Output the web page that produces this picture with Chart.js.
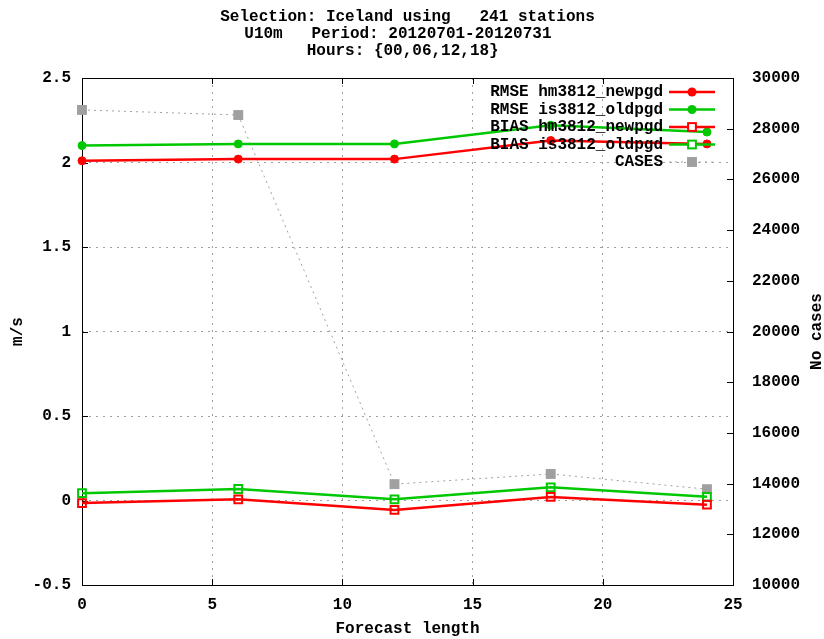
<!DOCTYPE html>
<html>
<head>
<meta charset="utf-8">
<script src="https://cdn.jsdelivr.net/npm/chart.js@4.4.1/dist/chart.umd.min.js"></script>
<style>
  html, body { margin: 0; padding: 0; background: #fff; }
  #wrap { width: 824px; height: 639px; }
</style>
</head>
<body>
<div id="wrap"><canvas id="chart" width="824" height="639"></canvas></div>
<script>
// forecast lead times (hours)
const leadTimes = [0, 6, 12, 18, 24];

// scores in m/s
const rmseNew = [2.01, 2.02, 2.02, 2.13, 2.11];
const rmseOld = [2.10, 2.11, 2.11, 2.22, 2.18];
const biasNew = [-0.015, 0.007, -0.056, 0.021, -0.025];
const biasOld = [0.043, 0.068, 0.007, 0.078, 0.022];

// number of cases (right axis)
const cases = [28740, 28540, 13980, 14380, 13780];

const xTicks = [0, 5, 10, 15, 20, 25];
const yTicks = [-0.5, 0, 0.5, 1, 1.5, 2, 2.5];
const y2Ticks = [10000, 12000, 14000, 16000, 18000, 20000, 22000, 24000, 26000, 28000, 30000];

const titleLines = [
  'Selection: Iceland using   241 stations',
  'U10m   Period: 20120701-20120731  ',
  'Hours: {00,06,12,18} '
];

const RED = '#ff0000';
const GREEN = '#00c800';
const GREY = '#a0a0a0';
const FONT = "'Liberation Mono', 'DejaVu Sans Mono', monospace";

const pts = vals => leadTimes.map((x, i) => ({ x: x, y: vals[i] }));

Chart.defaults.font = { family: FONT, size: 16, weight: 'bold' };
Chart.defaults.color = '#000';

// gnuplot style frame, inward tick marks and right axis title
const framePlugin = {
  id: 'frame',
  beforeDatasetsDraw(chart) {
    const { ctx, chartArea: a, scales } = chart;
    ctx.save();
    ctx.strokeStyle = '#000';
    ctx.lineWidth = 1;
    ctx.beginPath();
    xTicks.forEach(v => {
      const px = Math.round(scales.x.getPixelForValue(v)) + 0.5;
      ctx.moveTo(px, a.bottom); ctx.lineTo(px, a.bottom - 6);
      ctx.moveTo(px, a.top); ctx.lineTo(px, a.top + 6);
    });
    yTicks.forEach(v => {
      const py = Math.round(scales.y.getPixelForValue(v)) + 0.5;
      ctx.moveTo(a.left, py); ctx.lineTo(a.left + 6, py);
    });
    y2Ticks.forEach(v => {
      const py = Math.round(scales.y2.getPixelForValue(v)) + 0.5;
      ctx.moveTo(a.right, py); ctx.lineTo(a.right - 6, py);
    });
    ctx.stroke();
    ctx.strokeRect(Math.round(a.left) + 0.5, Math.round(a.top) + 0.5,
      Math.round(a.right - a.left), Math.round(a.bottom - a.top));

    ctx.fillStyle = '#000';
    ctx.font = 'bold 16px ' + FONT;
    ctx.translate(817, (a.top + a.bottom) / 2);
    ctx.rotate(-Math.PI / 2);
    ctx.textAlign = 'center';
    ctx.textBaseline = 'middle';
    ctx.fillText('No cases', 0, 0);
    ctx.restore();
  }
};

// key in the top right corner, text right aligned, sample on the right
const keyPlugin = {
  id: 'key',
  afterDatasetsDraw(chart) {
    const { ctx } = chart;
    ctx.save();
    ctx.font = 'bold 16px ' + FONT;
    ctx.textAlign = 'right';
    ctx.textBaseline = 'middle';
    chart.data.datasets.forEach((ds, i) => {
      const y = 92 + i * 17.5;
      ctx.fillStyle = '#000';
      ctx.fillText(ds.label, 663, y);
      ctx.save();
      ctx.strokeStyle = ds.borderColor;
      ctx.lineWidth = ds.borderWidth;
      ctx.setLineDash(ds.borderDash || []);
      ctx.beginPath();
      ctx.moveTo(669, y); ctx.lineTo(715, y);
      ctx.stroke();
      ctx.restore();
      const r = ds.pointRadius;
      ctx.save();
      if (ds.pointStyle === 'circle') {
        ctx.fillStyle = ds.borderColor;
        ctx.beginPath();
        ctx.arc(692, y, r + 0.5, 0, Math.PI * 2);
        ctx.fill();
      } else {
        const s = r * Math.SQRT2;
        if (ds.pointBorderWidth > 0) {
          ctx.strokeStyle = ds.borderColor;
          ctx.lineWidth = ds.pointBorderWidth;
          ctx.fillStyle = '#fff';
          ctx.fillRect(692 - s / 2, y - s / 2, s, s);
          ctx.strokeRect(692 - s / 2, y - s / 2, s, s);
        } else {
          ctx.fillStyle = ds.pointBackgroundColor;
          ctx.fillRect(692 - s / 2, y - s / 2, s, s);
        }
      }
      ctx.restore();
    });
    ctx.restore();
  }
};

new Chart(document.getElementById('chart'), {
  type: 'line',
  data: {
    datasets: [
      {
        label: 'RMSE hm3812_newpgd',
        data: pts(rmseNew),
        borderColor: RED, backgroundColor: RED,
        borderWidth: 2.5, pointStyle: 'circle', pointRadius: 4, pointBorderWidth: 1,
        pointBackgroundColor: RED, yAxisID: 'y', clip: 12
      },
      {
        label: 'RMSE is3812_oldpgd',
        data: pts(rmseOld),
        borderColor: GREEN, backgroundColor: GREEN,
        borderWidth: 2.5, pointStyle: 'circle', pointRadius: 4, pointBorderWidth: 1,
        pointBackgroundColor: GREEN, yAxisID: 'y', clip: 12
      },
      {
        label: 'BIAS hm3812_newpgd',
        data: pts(biasNew),
        borderColor: RED, backgroundColor: RED,
        borderWidth: 2.5, pointStyle: 'rect', pointRadius: 5.5, pointBorderWidth: 2,
        pointBackgroundColor: 'rgba(0,0,0,0)', yAxisID: 'y', clip: 12
      },
      {
        label: 'BIAS is3812_oldpgd',
        data: pts(biasOld),
        borderColor: GREEN, backgroundColor: GREEN,
        borderWidth: 2.5, pointStyle: 'rect', pointRadius: 5.5, pointBorderWidth: 2,
        pointBackgroundColor: 'rgba(0,0,0,0)', yAxisID: 'y', clip: 12
      },
      {
        label: 'CASES',
        data: pts(cases),
        borderColor: GREY, backgroundColor: GREY,
        borderWidth: 1, borderDash: [2, 4], pointStyle: 'rect', pointRadius: 7, pointBorderWidth: 0,
        pointBackgroundColor: GREY, yAxisID: 'y2', clip: 12
      }
    ]
  },
  options: {
    responsive: false,
    animation: false,
    layout: { padding: 0 },
    plugins: {
      legend: { display: false },
      tooltip: { enabled: false },
      title: {
        display: true,
        fullSize: false,
        text: titleLines,
        color: '#000',
        font: { family: FONT, size: 16, weight: 'bold', lineHeight: 1.05 },
        padding: { top: 9, bottom: 18.6 }
      }
    },
    scales: {
      x: {
        type: 'linear', position: 'bottom', min: 0, max: 25,
        afterBuildTicks: s => { s.ticks = xTicks.map(v => ({ value: v })); },
        afterFit: s => { s.height = 54; },
        ticks: { padding: 10, maxRotation: 0, callback: v => String(v) },
        grid: { color: GREY, lineWidth: 1, drawTicks: false },
        border: { display: false, dash: [2, 5] },
        title: { display: true, text: 'Forecast length', padding: { top: 0, bottom: 0 } }
      },
      y: {
        type: 'linear', position: 'left', min: -0.5, max: 2.5,
        afterBuildTicks: s => { s.ticks = yTicks.map(v => ({ value: v })); },
        afterFit: s => { s.width = 82; },
        ticks: { padding: 11, callback: v => String(v) },
        grid: { color: GREY, lineWidth: 1, drawTicks: false },
        border: { display: false, dash: [2, 5] },
        title: { display: true, text: 'm/s', padding: { top: 8.4, bottom: 0 } }
      },
      y2: {
        type: 'linear', position: 'right', min: 10000, max: 30000,
        afterBuildTicks: s => { s.ticks = y2Ticks.map(v => ({ value: v })); },
        afterFit: s => { s.width = 91; },
        ticks: { padding: 19, callback: v => String(v) },
        grid: { drawOnChartArea: false, drawTicks: false },
        border: { display: false }
      }
    }
  },
  plugins: [framePlugin, keyPlugin]
});
</script>
</body>
</html>
